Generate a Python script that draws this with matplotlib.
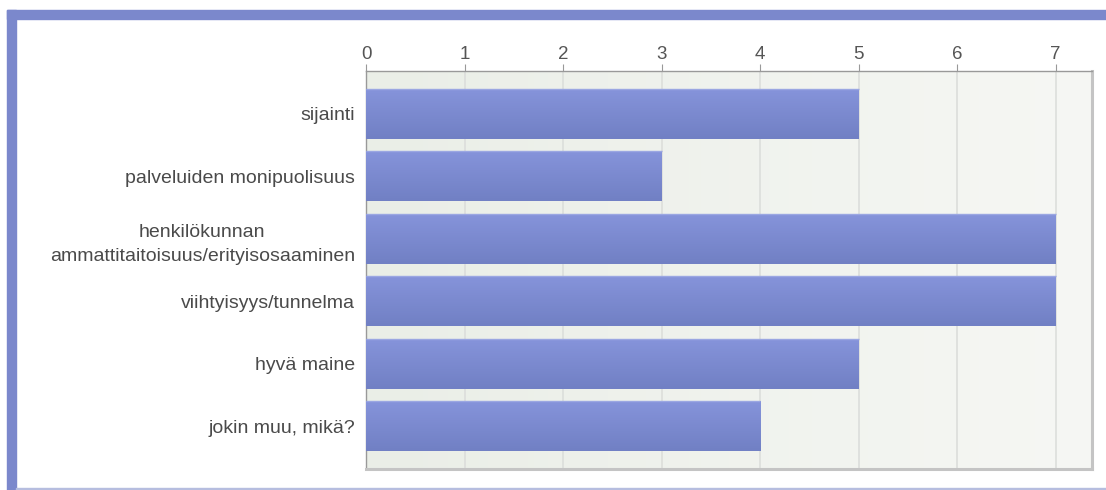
import numpy as np
import matplotlib
matplotlib.use("Agg")
import matplotlib.pyplot as plt
from matplotlib.patches import Rectangle
from matplotlib.colors import LinearSegmentedColormap

# data
categories = [
    "sijainti",
    "palveluiden monipuolisuus",
    "henkilökunnan\nammattitaitoisuus/erityisosaaminen",
    "viihtyisyys/tunnelma",
    "hyvä maine",
    "jokin muu, mikä?",
]
counts = [5, 3, 7, 7, 5, 4]
xticks = [0, 1, 2, 3, 4, 5, 6, 7]

plt.rcParams["font.family"] = ["Liberation Sans", "DejaVu Sans"]

fig = plt.figure(figsize=(11.06, 4.9), dpi=100)
W, H = 1106, 490

# outer blue frame (top and left bands) and thin bottom line
frame_col = "#7b88cc"
fig.patches.append(Rectangle((7 / W, 1 - 19 / H), 1 - 7 / W, 9 / H,
                             transform=fig.transFigure, color=frame_col, zorder=0))
fig.patches.append(Rectangle((7 / W, 0), 9 / W, 1 - 10 / H,
                             transform=fig.transFigure, color=frame_col, zorder=0))
fig.patches.append(Rectangle((16 / W, 0), 1 - 16 / W, 2 / H,
                             transform=fig.transFigure, color="#b6bddf", zorder=0))

ax = fig.add_axes([366 / W, 21 / H, (1092 - 366) / W, (469 - 71) / H])

xmax = 7.37
pad = 0.18
y = np.arange(len(categories))
ylo, yhi = len(categories) - 0.5 + pad, -0.5 - pad
ax.set_xlim(0, xmax)
ax.set_ylim(ylo, yhi)

# plot background gradient
bg = LinearSegmentedColormap.from_list("bg", ["#eaeee7", "#f6f7f4"])
ax.imshow(np.linspace(0, 1, 256).reshape(1, -1), cmap=bg, aspect="auto",
          extent=[0, xmax, ylo, yhi], zorder=0)

for t in xticks:
    ax.axvline(t, color="#dcdedb", lw=1.2, zorder=1)

bars = ax.barh(y, counts, height=0.8, color="#7a89cf", edgecolor="none", zorder=2)

# soft vertical gradient inside each bar
barcm = LinearSegmentedColormap.from_list("bar", ["#8694db", "#7180c4"])
grad = np.linspace(0, 1, 64).reshape(-1, 1)
for b in bars:
    x0, y0 = b.get_x(), b.get_y()
    im = ax.imshow(grad, cmap=barcm, aspect="auto", zorder=3,
                   extent=[x0, x0 + b.get_width(), y0 + b.get_height(), y0])
    im.set_clip_path(b)
    ax.plot([x0, x0 + b.get_width()], [y0, y0], color="#9ba7e2", lw=1, zorder=4,
            solid_capstyle="butt")
ax.set_xlim(0, xmax)
ax.set_ylim(ylo, yhi)

ax.set_yticks(y)
ax.set_yticklabels(categories, fontsize=14, color="#4a4a4a",
                   linespacing=1.55, multialignment="center")
ax.set_xticks(xticks)
ax.set_xticklabels([str(t) for t in xticks], fontsize=13.5, color="#555555")
ax.xaxis.tick_top()
ax.tick_params(axis="x", length=5, color="#999999", pad=1)
ax.tick_params(axis="y", length=0, pad=8)

for side in ["left", "top"]:
    ax.spines[side].set_color("#999999")
    ax.spines[side].set_linewidth(1)
for side in ["right", "bottom"]:
    ax.spines[side].set_color("#c4c4c4")
    ax.spines[side].set_linewidth(2.2)

fig.savefig("out.png", dpi=100)
